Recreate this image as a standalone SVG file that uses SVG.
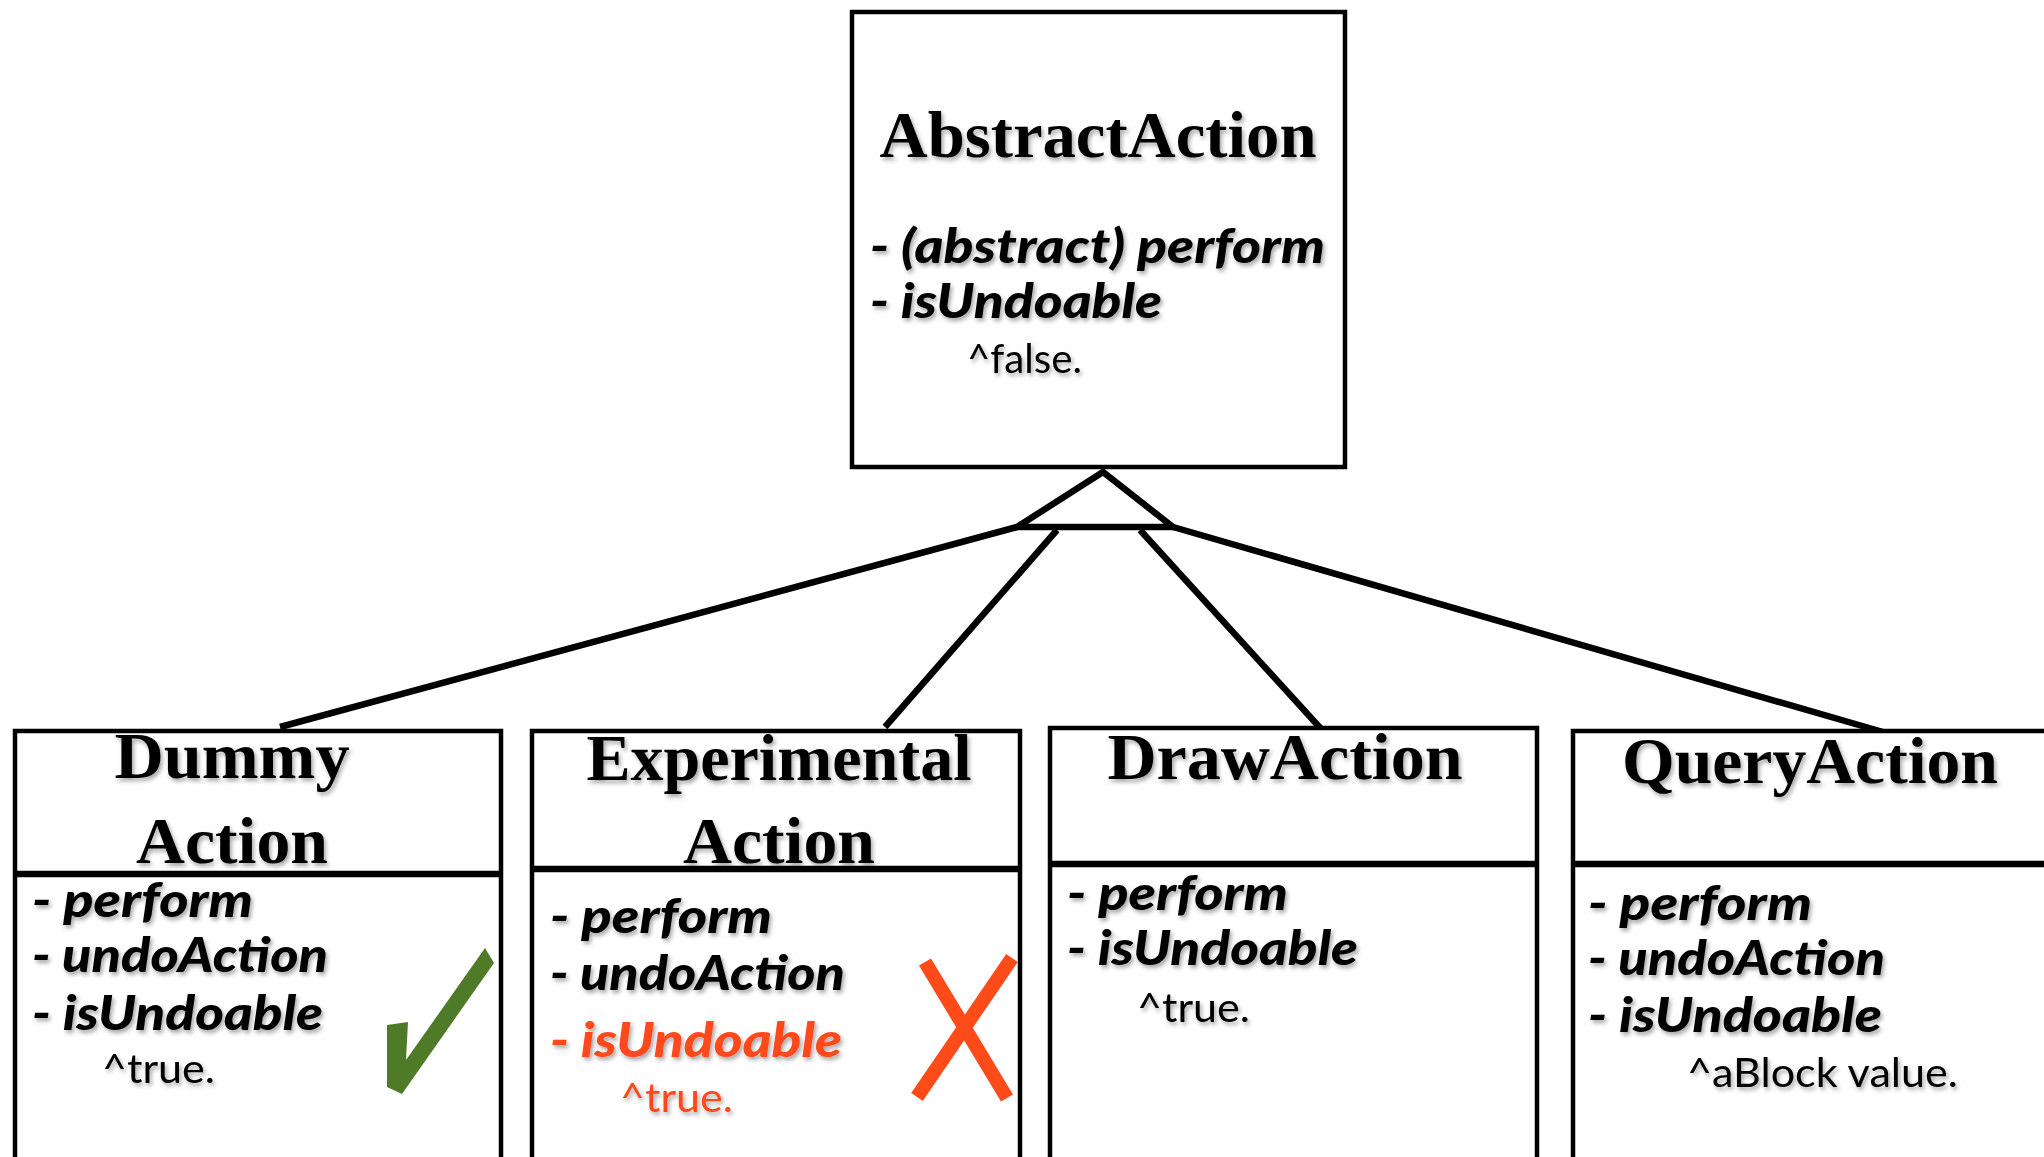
<svg xmlns="http://www.w3.org/2000/svg" width="2044" height="1157" viewBox="0 0 2044 1157">
  <defs>
    <filter id="shadow" x="-10%" y="-30%" width="120%" height="160%">
      <feDropShadow dx="2" dy="3" stdDeviation="2" flood-color="#000" flood-opacity="0.35"/>
    </filter>
  </defs>
  <style>
    .box { fill: #fff; stroke: #000; stroke-width: 4.5; }
    .div { stroke: #000; stroke-width: 6.5; }
    .title { font-family: "Liberation Serif", "Times New Roman", serif; font-weight: bold; font-size: 66px; fill: #000; text-anchor: middle; filter: url(#shadow); }
    .meth { font-family: Lato, "Open Sans", sans-serif; font-weight: 900; font-style: italic; font-size: 48px; fill: #000; filter: url(#shadow); }
    .ret { font-family: Lato, "Open Sans", sans-serif; font-weight: normal; font-size: 40px; fill: #000; filter: url(#shadow); }
    .red { fill: #FF4A1A; }
    .conn { stroke: #000; stroke-width: 6.5; fill: none; stroke-linejoin: miter; }
  </style>

  <rect width="2044" height="1157" fill="#fff"/>

  <g id="connectors">
    <line class="conn" x1="1017" y1="527" x2="280" y2="727"/>
    <line class="conn" x1="1057" y1="530" x2="885" y2="727"/>
    <line class="conn" x1="1140" y1="530" x2="1323" y2="731"/>
    <line class="conn" x1="1173" y1="527" x2="1883" y2="732"/>
    <polygon class="conn" points="1103,472 1017,527 1173,527"/>
  </g>

  <g id="AbstractAction">
    <rect class="box" x="852" y="12" width="493" height="455"/>
    <text class="title" x="1098" y="157" textLength="437" lengthAdjust="spacingAndGlyphs">AbstractAction</text>
    <text class="meth" x="870" y="263" textLength="455" lengthAdjust="spacingAndGlyphs">- (abstract) perform</text>
    <text class="meth" x="870" y="318" textLength="292" lengthAdjust="spacingAndGlyphs">- isUndoable</text>
    <text class="ret" x="967" y="373" textLength="115" lengthAdjust="spacingAndGlyphs">^false.</text>
  </g>

  <g id="DummyAction">
    <rect class="box" x="15" y="731" width="486" height="450"/>
    <line class="div" x1="15" y1="874" x2="501" y2="874"/>
    <text class="title" x="232" y="778" textLength="235" lengthAdjust="spacingAndGlyphs">Dummy</text>
    <text class="title" x="232" y="863" textLength="192" lengthAdjust="spacingAndGlyphs">Action</text>
    <text class="meth" x="32" y="917" textLength="221" lengthAdjust="spacingAndGlyphs">- perform</text>
    <text class="meth" x="32" y="972" textLength="296" lengthAdjust="spacingAndGlyphs">- undoAction</text>
    <text class="meth" x="32" y="1030" textLength="291" lengthAdjust="spacingAndGlyphs">- isUndoable</text>
    <text class="ret" x="102" y="1083" textLength="113" lengthAdjust="spacingAndGlyphs">^true.</text>
    <polygon points="387,1025 408,1022 406,1060 485,948 494,963 402,1094 387,1087" fill="#4F7B28"/>
  </g>

  <g id="ExperimentalAction">
    <rect class="box" x="532" y="731" width="488" height="450"/>
    <line class="div" x1="532" y1="869" x2="1020" y2="869"/>
    <text class="title" x="779" y="780" textLength="385" lengthAdjust="spacingAndGlyphs">Experimental</text>
    <text class="title" x="779" y="863" textLength="192" lengthAdjust="spacingAndGlyphs">Action</text>
    <text class="meth" x="550" y="933" textLength="222" lengthAdjust="spacingAndGlyphs">- perform</text>
    <text class="meth" x="550" y="990" textLength="295" lengthAdjust="spacingAndGlyphs">- undoAction</text>
    <text class="meth red" x="550" y="1057" textLength="292" lengthAdjust="spacingAndGlyphs">- isUndoable</text>
    <text class="ret red" x="620" y="1112" textLength="113" lengthAdjust="spacingAndGlyphs">^true.</text>
    <line x1="925" y1="962" x2="1007" y2="1098" stroke="#FF4A1A" stroke-width="14"/>
    <line x1="1012" y1="958" x2="917" y2="1097" stroke="#FF4A1A" stroke-width="14"/>
  </g>

  <g id="DrawAction">
    <rect class="box" x="1050" y="728" width="487" height="453"/>
    <line class="div" x1="1050" y1="864" x2="1537" y2="864"/>
    <text class="title" x="1285" y="779" textLength="355" lengthAdjust="spacingAndGlyphs">DrawAction</text>
    <text class="meth" x="1067" y="910" textLength="221" lengthAdjust="spacingAndGlyphs">- perform</text>
    <text class="meth" x="1067" y="965" textLength="291" lengthAdjust="spacingAndGlyphs">- isUndoable</text>
    <text class="ret" x="1137" y="1022" textLength="113" lengthAdjust="spacingAndGlyphs">^true.</text>
  </g>

  <g id="QueryAction">
    <rect class="box" x="1573" y="731" width="500" height="450"/>
    <line class="div" x1="1573" y1="864" x2="2060" y2="864"/>
    <text class="title" x="1810" y="783" textLength="376" lengthAdjust="spacingAndGlyphs">QueryAction</text>
    <text class="meth" x="1588" y="920" textLength="224" lengthAdjust="spacingAndGlyphs">- perform</text>
    <text class="meth" x="1588" y="975" textLength="297" lengthAdjust="spacingAndGlyphs">- undoAction</text>
    <text class="meth" x="1588" y="1032" textLength="294" lengthAdjust="spacingAndGlyphs">- isUndoable</text>
    <text class="ret" x="1687" y="1087" textLength="271" lengthAdjust="spacingAndGlyphs">^aBlock value.</text>
  </g>
</svg>
